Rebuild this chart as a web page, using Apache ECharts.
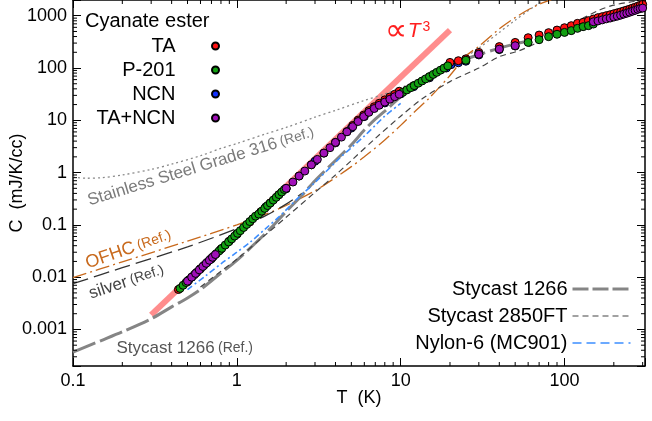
<!DOCTYPE html>
<html>
<head>
<meta charset="utf-8">
<script src="https://cdn.jsdelivr.net/npm/echarts@6/dist/echarts.min.js"></script>
<style>
  html, body { margin: 0; padding: 0; background: #fff; }
  #chart { width: 652px; height: 421px; }
</style>
</head>
<body>
<div id="chart"></div>
<script>
// axis ranges (T in K, C in mJ/K/cc)
var xMin = 0.1, xMax = 310;
var yMin = 0.0002, yMax = 2000;
var xDecades = [0.1, 1, 10, 100];
var yDecades = [0.0001, 0.001, 0.01, 0.1, 1, 10, 100, 1000];

// measured cyanate ester data [T, C]
var taData = [
  [0.44,0.0058],[0.5,0.0084],[0.6,0.0145],[0.7,0.023],[0.8,0.0345],[0.9,0.049],[1.0,0.067],
  [1.2,0.114],[1.4,0.178],[1.6,0.262],[1.8,0.375],[2.0,0.5],[2.4,0.86],[2.85,1.41],[3.4,2.36],
  [4.0,3.78],[4.7,6.1],[5.1,8.0],[5.5,10.1],[5.95,12.6],[6.4,15.3],[6.9,18.2],[7.4,21.2],
  [8.0,24.6],[8.6,28],[9.2,31.5],[9.8,36],[12,46],[15,68],[20,128],[22.5,138],[25,150],
  [30,199],[40,257],[50,309],[60,380],[70,427],[80,475],[90,532],[100,590],[110,646],
  [120,715],[130,750],[140,806],[150,865],[160,920],[170,961],[180,1005],[190,1045],
  [200,1092],[210,1137],[220,1183],[230,1236],[240,1286],[250,1337],[260,1399],[270,1455],
  [280,1521],[290,1582],[300,1650]
];
var p201Data = [
  [0.45,0.0061],[0.47,0.0070],[0.49,0.0079],[0.51,0.0089],[0.53,0.0100],[0.55,0.0111],
  [0.57,0.0124],[0.60,0.0145],[0.63,0.0168],[0.66,0.0193],[0.69,0.0220],[0.72,0.0250],
  [0.75,0.0283],[0.78,0.0318],[0.81,0.0356],[0.85,0.0411],[0.89,0.0472],[0.93,0.0539],
  [0.97,0.0611],[1.01,0.069],[1.05,0.0776],[1.10,0.0892],[1.15,0.1019],[1.20,0.1158],
  [1.25,0.1309],[1.30,0.147],[1.36,0.161],[1.42,0.183],[1.48,0.207],[1.54,0.234],
  [1.60,0.262],[1.67,0.298],[1.74,0.337],[1.81,0.380],[1.88,0.425],[1.95,0.475],
  [10.3,34.3],[10.9,38.1],[11.5,42],[12.1,46.1],[12.8,51.2],[13.5,56.5],[14.2,62],
  [15.0,68.5],[15.8,75.4],[16.6,82.6],[17.5,91],[18.4,99.8],[19.4,110],[25,141],[30,185],
  [50,263],[60,309],[70,348],[80,398],[90,442],[100,480],[110,519],[120,574],[130,618],
  [140,646],[150,693]
];
var ncnData = [
  [0.5,0.0082],[0.7,0.0225],[1.0,0.066],[1.5,0.22],[2.0,0.49],[3.0,1.65],[4.0,3.7],
  [5.0,7.1],[6.0,11.8],[8.0,21.5],[10,32],[12,44],[15,65],[19,100],[20.3,116],[22.5,126],
  [25,135],[30,178],[40,225]
];
var taNcnData = [
  [0.50,0.0084],[0.53,0.0100],[0.56,0.0118],[0.59,0.0138],[0.62,0.0160],[0.65,0.0184],
  [0.68,0.0211],[0.71,0.0240],[0.74,0.0271],
  [2.0,0.50],[2.2,0.66],[2.4,0.86],[2.6,1.07],[2.85,1.41],[3.1,1.79],[3.4,2.36],[3.7,2.99],
  [4.0,3.78],[4.35,4.77],[4.7,6.02],[5.1,7.56],[5.5,9.48],[5.95,11.8],[6.4,14.2],[6.9,16.8],
  [7.4,19.4],[8.0,22.3],[8.6,25.3],[9.2,28.3],[9.8,31.5],
  [30,183],[40,230],[50,267],
  [150,767],[160,795],[170,834],[180,872],[190,903],[200,944],[210,982],[220,1026],
  [230,1073],[240,1117],[250,1167],[260,1220],[270,1268],[280,1326],[290,1370],[300,1400]
];

// reference curves [T, C]
var stycast1266 = [
  [0.1,0.00037],[0.15,0.00062],[0.2,0.0009],[0.3,0.0016],[0.4,0.0027],[0.5,0.004],
  [0.6,0.0058],[0.8,0.012],[1,0.021],[1.3,0.045],[1.6,0.085],[2,0.18],[2.5,0.37],[3,0.7],
  [4,1.7],[5,3.4],[6,6.5],[7,10.5],[8,15],[10,28],[15,73],[20,115],[25,150],[30,180],
  [40,240],[50,290],[60,330]
];
var stycast2850 = [
  [0.6,0.0065],[0.8,0.013],[1,0.022],[1.5,0.065],[2,0.14],[3,0.42],[4,0.9],[5,1.7],[7,4.5],
  [10,12],[13.6,26],[20,55],[30,100],[40,165],[53,215],[70,320],[100,580],[130,900],
  [160,1250],[200,1600],[250,1820],[300,1950]
];
var nylon6 = [
  [0.5,0.0058],[0.65,0.0108],[0.8,0.018],[1,0.03],[1.2,0.046],[1.5,0.085],[1.84,0.15],
  [2.3,0.3],[3,0.65],[4.25,1.9],[5,3],[6,5],[7,8],[8,12],[10,21]
];
var steel316 = [
  [0.1,0.82],[0.12,0.78],[0.15,0.8],[0.2,0.9],[0.3,1.15],[0.4,1.45],[0.6,2.1],[0.8,2.9],
  [1,3.6],[1.5,5.5],[2,7.3],[3,11.5],[4,15.5],[6,24],[8,32],[10,42],[15,72],[20,115],
  [25,165],[30,240],[40,480],[50,820],[60,1250],[70,1750],[75,2100]
];
var ofhc = [
  [0.1,0.0098],[0.2,0.0196],[0.5,0.049],[1,0.1],[1.5,0.16],[2,0.235],[3,0.45],[4,0.8],
  [5,1.3],[6,2.0],[8,4.2],[10,8],[12,14],[15,27],[20,72],[25,170],[30,260],[40,560],
  [50,920],[60,1300],[70,1650],[80,1950],[85,2100]
];
var silver = [
  [0.1,0.0075],[0.2,0.0152],[0.5,0.038],[1,0.085],[1.5,0.15],[2,0.25],[2.5,0.4]
];
var t3Line = [[0.3,0.0019],[20,530]];

var xMinor = [], yMinor = [];
xDecades.forEach(function (d) {
  for (var k = 2; k <= 9; k++) { if (d * k < xMax) xMinor.push([d * k, 1]); }
});
yDecades.forEach(function (d) {
  for (var k = 2; k <= 9; k++) { if (d * k > yMin && d * k < yMax) yMinor.push([1, d * k]); }
});

var font = 'Liberation Sans, Arial, sans-serif';

function decadeLabel(v) {
  var l = Math.log(v) / Math.LN10;
  if (Math.abs(l - Math.round(l)) > 1e-6) return '';
  return v >= 1 ? String(Math.round(v)) : v.toPrecision(1);
}

function scatter(name, data, color) {
  return {
    name: name, type: 'scatter', data: data, symbol: 'circle', symbolSize: 8,
    itemStyle: { color: color, borderColor: '#000', borderWidth: 1, opacity: 1 },
    emphasis: { disabled: true }, z: 4
  };
}
function curve(name, data, color, width, dash, z) {
  return {
    name: name, type: 'line', data: data, symbol: 'none', smooth: 0.3,
    lineStyle: { color: color, width: width, type: dash, cap: 'butt' },
    itemStyle: { color: color }, emphasis: { disabled: true }, z: z || 2
  };
}
function legendLine(name, color, width, dash) {
  return { name: name, itemStyle: { opacity: 0 },
    lineStyle: { color: color, width: width, type: dash, cap: 'butt' } };
}

var chart = echarts.init(document.getElementById('chart'));

var option = {
  animation: false,
  backgroundColor: '#fff',
  grid: { left: 73, right: 7, top: 0, bottom: 55, containLabel: false, outerBoundsMode: 'none' },
  title: {
    text: 'Cyanate ester', left: 85, top: 11, padding: 0,
    textStyle: { fontSize: 20, fontWeight: 'normal', color: '#000', fontFamily: font }
  },
  legend: [{
    data: ['TA', 'P-201', 'NCN', 'TA+NCN'],
    orient: 'vertical', align: 'right', right: 432, top: 36, padding: 0,
    itemWidth: 70, itemHeight: 7, itemGap: 4,
    textStyle: { fontSize: 20, color: '#000', fontFamily: font, lineHeight: 20 }
  }, {
    data: [
      legendLine('Stycast 1266', '#858585', 3, [16, 4]),
      legendLine('Stycast 2850FT', '#444', 1.2, [6, 4]),
      legendLine('Nylon-6 (MC901)', '#3d8eff', 1.6, [9, 5])
    ],
    orient: 'vertical', align: 'right', right: 20, top: 279, padding: 0,
    itemWidth: 58, itemHeight: 12, itemGap: 7,
    textStyle: { fontSize: 20, color: '#000', fontFamily: font, lineHeight: 14 }
  }],
  xAxis: [{
    type: 'log', logBase: 10, min: xMin, max: xMax,
    name: 'T  (K)', nameLocation: 'middle', nameGap: 23, nameMoveOverlap: false,
    nameTextStyle: { fontSize: 18, color: '#000', fontFamily: font },
    axisLine: { onZero: false, lineStyle: { color: '#000', width: 1.5 } },
    axisTick: { inside: true, length: 8, lineStyle: { color: '#000', width: 1 } },
    axisLabel: { fontSize: 18, color: '#000', fontFamily: font, margin: 6, formatter: decadeLabel },
    splitLine: { show: false }
  }, {
    type: 'log', logBase: 10, min: xMin, max: xMax, position: 'top',
    axisLine: { onZero: false, lineStyle: { color: '#000', width: 1.5 } },
    axisTick: { inside: true, length: 8, lineStyle: { color: '#000', width: 1 } },
    axisLabel: { show: false }, splitLine: { show: false }
  }],
  yAxis: [{
    type: 'log', logBase: 10, min: yMin, max: yMax,
    name: 'C  (mJ/K/cc)', nameLocation: 'middle', nameGap: 47, nameRotate: 90,
    nameMoveOverlap: false,
    nameTextStyle: { fontSize: 18, color: '#000', fontFamily: font },
    axisLine: { onZero: false, lineStyle: { color: '#000', width: 1.5 } },
    axisTick: { inside: true, length: 8, lineStyle: { color: '#000', width: 1 } },
    axisLabel: { fontSize: 18, color: '#000', fontFamily: font, margin: 6, formatter: decadeLabel },
    splitLine: { show: false }
  }, {
    type: 'log', logBase: 10, min: yMin, max: yMax, position: 'right',
    axisLine: { onZero: false, lineStyle: { color: '#000', width: 1.5 } },
    axisTick: { inside: true, length: 8, lineStyle: { color: '#000', width: 1 } },
    axisLabel: { show: false }, splitLine: { show: false }
  }],
  series: [
    {
      name: 'T3', type: 'line', data: t3Line, symbol: 'none',
      lineStyle: { color: '#ff7070', width: 6, opacity: 0.8, cap: 'butt' },
      emphasis: { disabled: true }, z: 1
    },
    curve('Stainless Steel', steel316, '#8a8a8a', 1.3, [2, 3]),
    curve('OFHC', ofhc, '#c8691c', 1.3, [14, 4, 2, 4]),
    curve('silver', silver, '#333', 1.3, [16, 6]),
    curve('Stycast 1266', stycast1266, '#858585', 3, [24, 5]),
    curve('Stycast 2850FT', stycast2850, '#444', 1.2, [6, 4]),
    curve('Nylon-6 (MC901)', nylon6, '#3d8eff', 1.6, [6, 3, 2, 3]),
    scatter('NCN', ncnData, '#1030ff'),
    scatter('TA', taData, '#ff1010'),
    scatter('P-201', p201Data, '#12a012'),
    scatter('TA+NCN', taNcnData, '#a010b8'),
    {
      type: 'custom', name: 'xminor', data: xMinor, clip: false, silent: true, z: 5,
      renderItem: function (params, api) {
        var cs = params.coordSys;
        var x = api.coord([api.value(0), 1])[0];
        var st = { stroke: '#000', lineWidth: 1 };
        return { type: 'group', children: [
          { type: 'line', shape: { x1: x, y1: cs.y + cs.height, x2: x, y2: cs.y + cs.height - 4 }, style: st },
          { type: 'line', shape: { x1: x, y1: cs.y, x2: x, y2: cs.y + 4 }, style: st }
        ] };
      }
    },
    {
      type: 'custom', name: 'yminor', data: yMinor, clip: false, silent: true, z: 5,
      renderItem: function (params, api) {
        var cs = params.coordSys;
        var y = api.coord([1, api.value(1)])[1];
        var st = { stroke: '#000', lineWidth: 1 };
        return { type: 'group', children: [
          { type: 'line', shape: { x1: cs.x, y1: y, x2: cs.x + 4, y2: y }, style: st },
          { type: 'line', shape: { x1: cs.x + cs.width, y1: y, x2: cs.x + cs.width - 4, y2: y }, style: st }
        ] };
      }
    }
  ]
};
chart.setOption(option);

// text annotations anchored in data coordinates
var notes = [
  { at: [0.128, 0.2], rot: 17, color: '#7a7a7a',
    text: '{a|Stainless Steel Grade 316} {b|(Ref.)}', size: 17 },
  { at: [0.1255, 0.0124], rot: 19, color: '#c8691c', text: '{a|OFHC} {b|(Ref.)}', size: 18 },
  { at: [0.131, 0.0033], rot: 18.5, color: '#444', text: '{a|silver} {b|(Ref.)}', size: 17 },
  { at: [0.184, 0.0003], rot: 0, color: '#555', text: '{a|Stycast 1266} {b|(Ref.)}', size: 17 }
];
var graphics = notes.map(function (n) {
  var p = chart.convertToPixel({ gridIndex: 0 }, n.at);
  return {
    type: 'text', x: p[0], y: p[1], rotation: n.rot * Math.PI / 180,
    style: {
      text: n.text, fill: n.color, align: 'left', verticalAlign: 'bottom',
      rich: {
        a: { fontSize: n.size, fill: n.color, fontFamily: font },
        b: { fontSize: 14, fill: n.color, fontFamily: font }
      }
    }
  };
});
var tp = chart.convertToPixel({ gridIndex: 0 }, [8.0, 250]);
graphics.push({
  type: 'text', x: tp[0], y: tp[1],
  style: {
    text: '{n|\u221D}{i|T}{s|3}', align: 'left', verticalAlign: 'bottom', fill: '#ff2020',
    rich: {
      n: { fontSize: 31, fill: '#ff2020', fontFamily: font },
      i: { fontSize: 21, fill: '#ff2020', fontFamily: font, fontStyle: 'italic', padding: [0, 0, 2, 1] },
      s: { fontSize: 14, fill: '#ff2020', fontFamily: font, padding: [0, 0, 9, 2] }
    }
  }
});
chart.setOption({ graphic: graphics });
</script>
</body>
</html>
